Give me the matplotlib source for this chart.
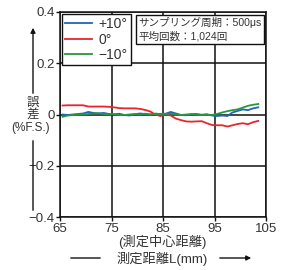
import matplotlib
matplotlib.use("Agg")
import matplotlib.pyplot as plt

plt.rcParams['font.family'] = ['Liberation Sans', 'Noto Sans CJK JP', 'DejaVu Sans']

# measurement distance (mm)
dist = [65.5, 66.5, 67.5, 68.5, 69.5, 70.5, 71.5, 72.5, 73.5, 74.5,
        75.5, 76.5, 77.5, 78.5, 79.5, 80.5, 81.5, 82.5, 83.5, 84.5,
        85.5, 86.5, 87.5, 88.5, 89.5, 90.5, 91.5, 92.5, 93.5, 94.5,
        95.5, 96.5, 97.5, 98.5, 99.5, 100.5, 101.5, 102.5, 103.5]

err_plus10 = [0.000, -0.002, 0.000, 0.002, 0.004, 0.010, 0.006, 0.004, 0.006, 0.002,
              0.000, 0.003, -0.002, -0.004, 0.000, 0.004, 0.002, 0.000, 0.003, 0.002,
              0.003, 0.010, 0.004, -0.002, -0.003, 0.001, 0.002, -0.001, 0.001, -0.004,
              -0.006, -0.004, -0.006, 0.008, 0.014, 0.020, 0.017, 0.024, 0.028]

err_0 = [0.035, 0.036, 0.036, 0.036, 0.036, 0.031, 0.031, 0.031, 0.031, 0.030,
         0.028, 0.025, 0.024, 0.024, 0.024, 0.022, 0.018, 0.012, 0.000, -0.006,
         0.001, -0.004, -0.016, -0.022, -0.027, -0.028, -0.027, -0.026, -0.034, -0.041,
         -0.042, -0.042, -0.047, -0.042, -0.037, -0.034, -0.038, -0.030, -0.025]

err_minus10 = [-0.009, -0.004, -0.002, 0.000, 0.000, 0.002, 0.004, 0.005, 0.002, 0.000,
               0.002, -0.002, -0.002, 0.000, 0.002, 0.000, 0.003, 0.000, 0.003, 0.002,
               0.002, 0.004, 0.000, -0.002, 0.000, 0.001, 0.000, -0.002, -0.001, -0.002,
               0.002, 0.008, 0.013, 0.017, 0.020, 0.027, 0.034, 0.038, 0.041]

xticks = [65, 75, 85, 95, 105]
yticks = [-0.4, -0.2, 0, 0.2, 0.4]
ytick_labels = ['\u22120.4', '\u22120.2', '0', '0.2', '0.4']

fig = plt.figure(figsize=(2.85, 2.70), dpi=100)
ax = fig.add_axes([60 / 285, 53 / 270, 206 / 285, 205 / 270])

ax.plot(dist, err_plus10, color='#2162bd', lw=1.3, label='+10°', zorder=3)
ax.plot(dist, err_0, color='#e8252b', lw=1.3, label='0°', zorder=3)
ax.plot(dist, err_minus10, color='#23993f', lw=1.3, label='\u221210°', zorder=3)

ax.set_xlim(65, 105)
ax.set_ylim(-0.4, 0.4)
ax.set_xticks(xticks)
ax.set_yticks(yticks)
ax.set_yticklabels(ytick_labels)
ax.grid(True, color='#111111', lw=1.1)
for s in ax.spines.values():
    s.set_color('#111111')
    s.set_linewidth(1.1)
ax.tick_params(direction='out', length=3, width=1, pad=1, labelsize=9.5,
               labelcolor='#333333', color='#111111')

leg = ax.legend(loc='upper left', bbox_to_anchor=(0.008, 0.992), fontsize=10,
                handlelength=1.9, handletextpad=0.5, borderpad=0.25, labelspacing=0.1,
                frameon=True, fancybox=False, framealpha=1, borderaxespad=0)
leg.get_frame().set_edgecolor('#111111')
leg.get_frame().set_linewidth(1.0)
for t in leg.get_texts():
    t.set_color('#333333')

ax.text(0.38, 0.975, 'サンプリング周期：500μs\n平均回数：1,024回', transform=ax.transAxes,
        ha='left', va='top', fontsize=7.6, color='#333333', linespacing=1.3,
        bbox=dict(boxstyle='square,pad=0.22', fc='white', ec='#111111', lw=1.0), zorder=5)

# y-axis label with arrow
fig.text(33 / 285, 1 - 109 / 270, '誤\n差', ha='center', va='center',
         fontsize=9, color='#333333', linespacing=1.0)
fig.text(31 / 285, 1 - 128 / 270, '(%F.S.)', ha='center', va='center',
         fontsize=8.5, color='#333333')
ax.annotate('', xy=(33, 270 - 25), xytext=(33, 270 - 96), xycoords='figure pixels',
            textcoords='figure pixels',
            arrowprops=dict(arrowstyle='-|>', color='#111111', lw=1.0, mutation_scale=7),
            annotation_clip=False)
ax.annotate('', xy=(33, 270 - 213), xytext=(33, 270 - 138), xycoords='figure pixels',
            textcoords='figure pixels',
            arrowprops=dict(arrowstyle='-', color='#111111', lw=1.0),
            annotation_clip=False)

# x-axis labels with arrow
fig.text(162 / 285, 1 - 242 / 270, '(測定中心距離)', ha='center', va='center',
         fontsize=9.5, color='#333333')
fig.text(162 / 285, 1 - 259 / 270, '測定距離L(mm)', ha='center', va='center',
         fontsize=9.5, color='#333333')
ax.annotate('', xy=(68, 270 - 258), xytext=(103, 270 - 258), xycoords='figure pixels',
            textcoords='figure pixels',
            arrowprops=dict(arrowstyle='-', color='#111111', lw=1.0),
            annotation_clip=False)
ax.annotate('', xy=(254, 270 - 258), xytext=(217, 270 - 258), xycoords='figure pixels',
            textcoords='figure pixels',
            arrowprops=dict(arrowstyle='-|>', color='#111111', lw=1.0, mutation_scale=7),
            annotation_clip=False)

fig.savefig('out.png', dpi=100)
